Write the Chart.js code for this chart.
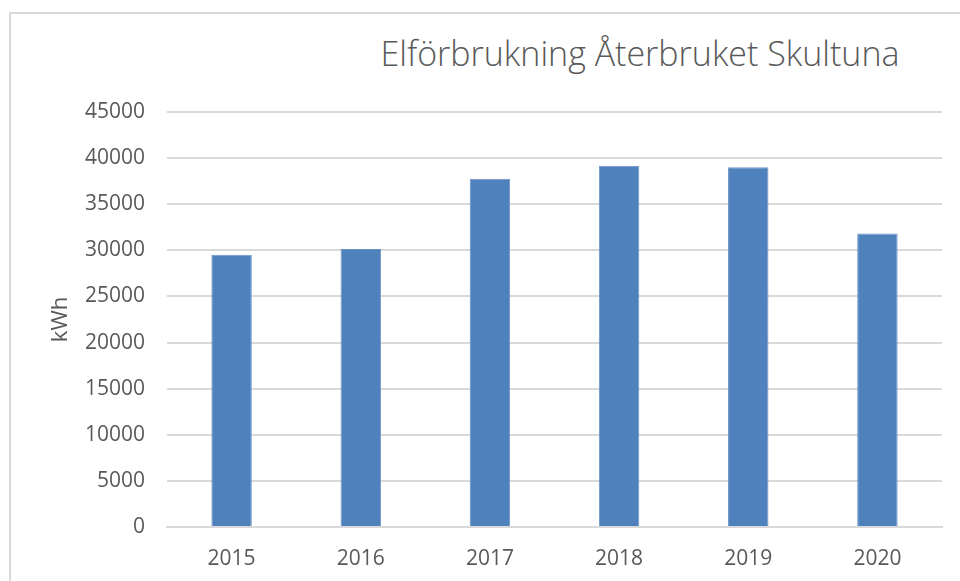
<!DOCTYPE html>
<html>
<head>
<meta charset="utf-8">
<script src="https://cdn.jsdelivr.net/npm/chart.js@4/dist/chart.umd.min.js"></script>
<style>
  html, body { margin: 0; padding: 0; background: #fff; }
  #wrap { position: relative; width: 960px; height: 581px; overflow: hidden; }
  #frame { position: absolute; left: 9px; top: 12px; width: 1000px; height: 700px; border: 2px solid #d9d9d9; box-sizing: border-box; }
  #title { position: absolute; left: 340px; width: 600px; top: 30px; text-align: center;
           font-family: "Open Sans", sans-serif; font-weight: 300; font-size: 34px; color: #595959; white-space: nowrap; }
  canvas { position: absolute; left: 0; top: 0; }
</style>
</head>
<body>
<div id="wrap">
  <div id="frame"></div>
  <div id="title">Elförbrukning Återbruket Skultuna</div>
  <canvas id="c" width="960" height="581"></canvas>
</div>
<script>
const categories = ["2015", "2016", "2017", "2018", "2019", "2020"];
const consumptionKWh = [29530, 30150, 37750, 39160, 39020, 31820];
const yTicks = [0, 5000, 10000, 15000, 20000, 25000, 30000, 35000, 40000, 45000];
const yAxisTitle = "kWh";

const FONT = "'Open Sans', sans-serif";
const TXT = "#595959";

new Chart(document.getElementById("c"), {
  type: "bar",
  data: {
    labels: categories,
    datasets: [{
      label: yAxisTitle,
      data: consumptionKWh,
      backgroundColor: "#4f81bd",
      borderColor: "#6a93c6",
      borderWidth: 1,
      categoryPercentage: 1,
      barPercentage: 0.313
    }]
  },
  options: {
    responsive: false,
    animation: false,
    devicePixelRatio: 1,
    layout: { padding: { left: 0, right: 18, top: 112, bottom: 0 } },
    plugins: { legend: { display: false }, tooltip: { enabled: false }, title: { display: false } },
    scales: {
      x: {
        grid: { display: false, drawTicks: false },
        border: { display: true, color: "#d9d9d9", width: 2 },
        ticks: { color: TXT, font: { family: FONT, size: 21 }, padding: 19 },
        afterFit: s => { s.height = 54; }
      },
      y: {
        min: 0, max: 45000,
        afterBuildTicks: s => { s.ticks = yTicks.map(v => ({ value: v })); },
        grid: { color: "#d9d9d9", lineWidth: 2, drawTicks: false },
        border: { display: false },
        ticks: { color: TXT, font: { family: FONT, size: 21 }, padding: 22, callback: v => String(v) },
        title: { display: true, text: yAxisTitle, color: TXT, font: { family: FONT, size: 22 }, padding: { top: 48, bottom: 0 } },
        afterFit: s => { s.width = 167; }
      }
    }
  }
});
</script>
</body>
</html>
